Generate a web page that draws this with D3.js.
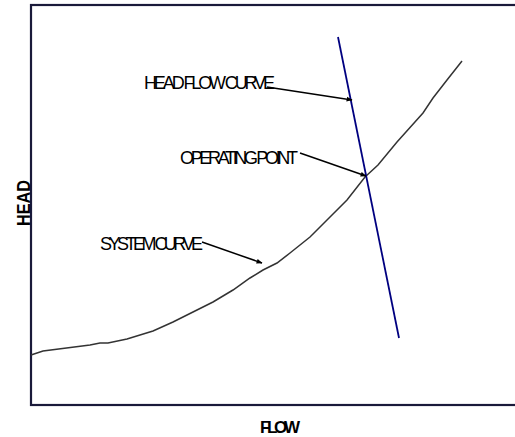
<!DOCTYPE html>
<html>
<head>
<meta charset="utf-8">
<script src="https://cdn.jsdelivr.net/npm/d3@7"></script>
<style>
  html, body { margin: 0; padding: 0; background: #fff; }
  svg { display: block; }
  text { font-family: Arial, "Liberation Sans", sans-serif; }
</style>
</head>
<body>
<script>
// ---- data (arbitrary units, 0..100 on both axes) ----
const systemFlow = [0, 2.4, 11.8, 13.8, 15.4, 19.2, 24.4, 28.4, 32.4, 36.4, 40.4, 43.8, 46.4, 49.2, 51.8, 55.8, 59.2, 63.2, 66.8, 69.4, 73.2, 78.4, 80.4, 83.2, 86.2];
const systemHead = [12.5, 13.5, 15, 15.5, 15.5, 16.5, 18.5, 20.75, 23.25, 25.75, 28.75, 31.75, 33.75, 35.5, 38, 42, 46.25, 51.25, 57, 60, 65.75, 73, 76.75, 81.25, 86];
const pumpFlow = [61.4, 73.6];
const pumpHead = [92, 16.75];

const annLabels = ["HEAD FLOW CURVE", "OPERATING POINT", "SYSTEM CURVE"];
const annTextX = [22.6, 29.8, 13.8];
const annTextY = [79, 60.25, 38.75];
const annFromX = [47.2, 53.8, 34.2];
const annFromY = [79.5, 63, 40.75];
const annToX = [64.2, 67, 46.2];
const annToY = [76.25, 57.25, 35.5];
const annWidth = [131, 118, 103];

const xTitle = "FLOW";
const yTitle = "HEAD";

// ---- layout ----
const W = 515, H = 437;
const x = d3.scaleLinear().domain([0, 100]).range([31, 531]);
const y = d3.scaleLinear().domain([0, 100]).range([405, 5]);

const svg = d3.select("body").append("svg").attr("width", W).attr("height", H);

svg.append("defs").append("marker")
  .attr("id", "arrow").attr("viewBox", "0 0 10 10")
  .attr("refX", 9).attr("refY", 5)
  .attr("markerWidth", 6).attr("markerHeight", 6)
  .attr("markerUnits", "userSpaceOnUse")
  .attr("orient", "auto")
  .append("path").attr("d", "M0,1 L10,5 L0,9 Z").attr("fill", "#000");

// frame
svg.append("rect")
  .attr("x", x(0)).attr("y", y(100))
  .attr("width", x(100) - x(0)).attr("height", y(0) - y(100))
  .attr("fill", "none").attr("stroke", "#1a1a3a").attr("stroke-width", 2.2);

// system curve
const line = d3.line().x(d => x(d[0])).y(d => y(d[1]));
svg.append("path")
  .datum(d3.zip(systemFlow, systemHead))
  .attr("d", line)
  .attr("fill", "none").attr("stroke", "#333").attr("stroke-width", 1.5);

// pump head-flow curve
svg.append("path")
  .datum(d3.zip(pumpFlow, pumpHead))
  .attr("d", line)
  .attr("fill", "none").attr("stroke", "#000080").attr("stroke-width", 1.8);

// annotations
annLabels.forEach((lab, i) => {
  svg.append("text")
    .attr("x", x(annTextX[i])).attr("y", y(annTextY[i]))
    .attr("font-size", 18)
    .attr("textLength", annWidth[i]).attr("lengthAdjust", "spacing")
    .attr("fill", "#000")
    .text(lab);
  svg.append("line")
    .attr("x1", x(annFromX[i])).attr("y1", y(annFromY[i]))
    .attr("x2", x(annToX[i])).attr("y2", y(annToY[i]))
    .attr("stroke", "#000").attr("stroke-width", 1.5)
    .attr("marker-end", "url(#arrow)");
});

// axis titles
svg.append("text")
  .attr("x", 280).attr("y", 433)
  .attr("text-anchor", "middle")
  .attr("font-size", 17).attr("font-weight", "bold")
  .attr("textLength", 40).attr("lengthAdjust", "spacing")
  .text(xTitle);

svg.append("text")
  .attr("transform", "translate(30,203) rotate(-90)")
  .attr("text-anchor", "middle")
  .attr("font-size", 18).attr("font-weight", "bold")
  .attr("textLength", 46).attr("lengthAdjust", "spacingAndGlyphs")
  .text(yTitle);
</script>
</body>
</html>
